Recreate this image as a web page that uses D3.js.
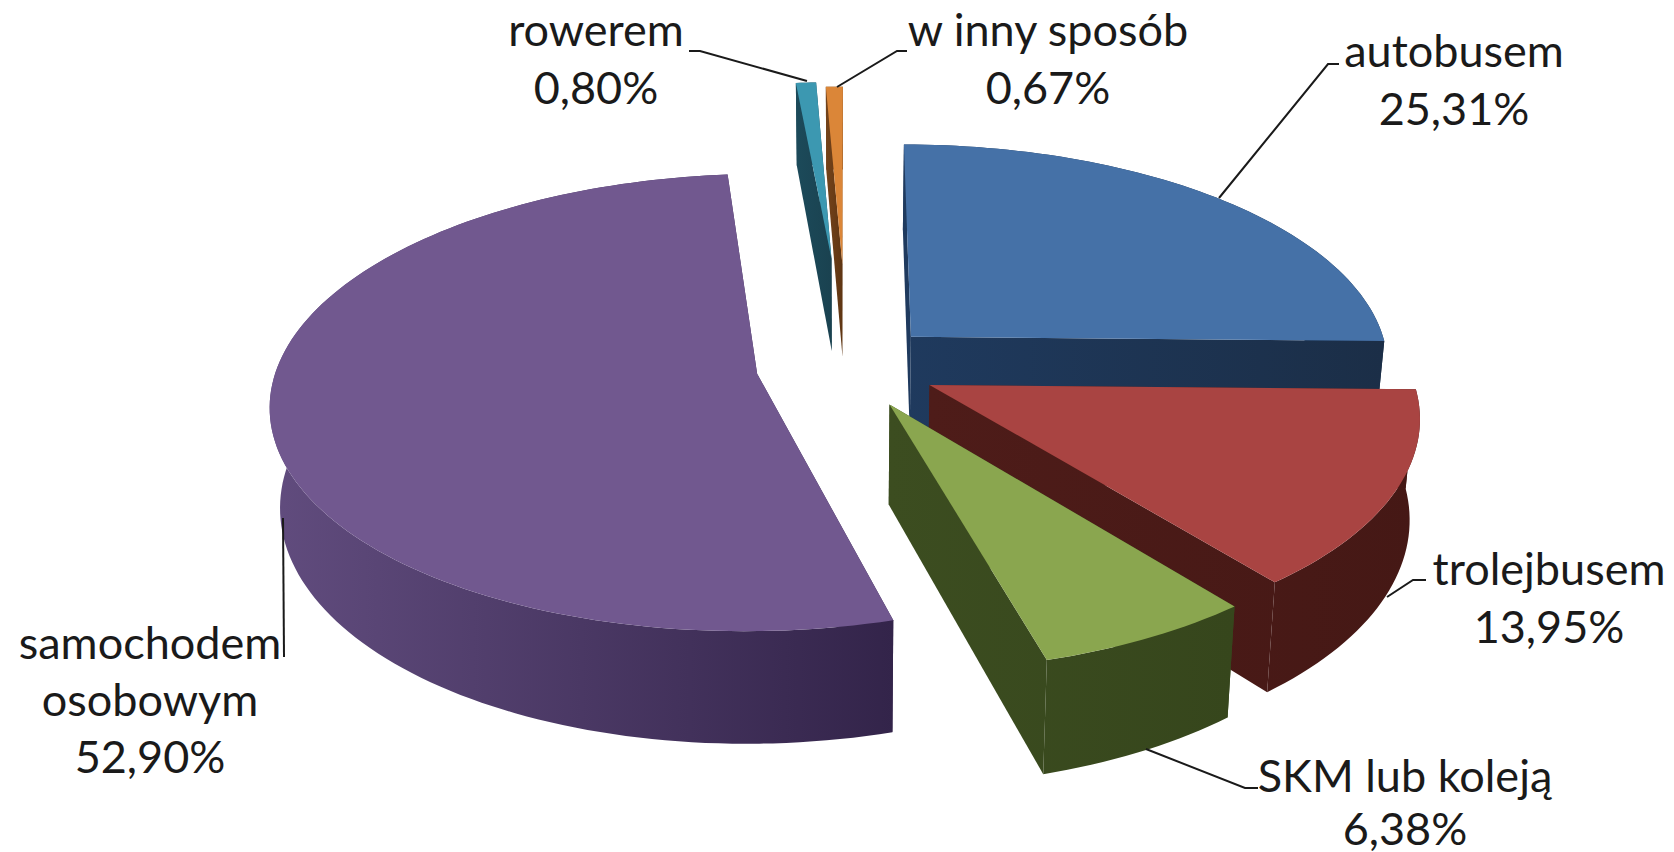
<!DOCTYPE html>
<html>
<head>
<meta charset="utf-8">
<script src="https://cdn.jsdelivr.net/npm/d3@7"></script>
<style>
  html, body { margin: 0; background: #fff; }
  text { font-family: Lato, "Open Sans", sans-serif; font-size: 45px; fill: #1a1a1a; text-anchor: middle; }
</style>
</head>
<body>
<script>
// slices in the order they go round the pie, clockwise from the top
var categories = ["autobusem", "trolejbusem", "SKM lub koleją", "samochodem osobowym", "rowerem", "w inny sposób"];
var shares = [25.31, 13.95, 6.38, 52.90, 0.80, 0.67];
var shareLabels = ["25,31%", "13,95%", "6,38%", "52,90%", "0,80%", "0,67%"];
var explosion = [1, 1, 1, 1, 2.7, 2.55];

var topColors = ["#4571a7", "#a94442", "#8aa64f", "#71588f", "#3c98b1", "#db8638"];
var wallLight = ["#1f3a5e", "#4e1c19", "#3c4d20", "#614c7e", "#1c4a5a", "#74431a"];
var wallDark = ["#1b2e47", "#451815", "#36461c", "#33244a", "#1a4250", "#5e3513"];

var w = 1674, h = 852;

// pie geometry, everything in pixels on the ground plane
var cx = 847, cy = 366;
var radius = 480, blast = 91, thickness = 98;
var tilt = 0.465, persp = 0.125, lowScale = 0.982;

var svg = d3.select("body").append("svg")
    .attr("width", w)
    .attr("height", h);

var defs = svg.append("defs");

var pie = d3.pie().sort(null).value(function(d){ return d; });
var arcs = pie(shares);

// ground point + height -> screen, the underside pulls in a little towards the middle
function project(gx, gz, up){
    var s = 1 / (1 + persp * gz / radius);
    return [cx + gx * s * (up ? 1 : lowScale), cy - gz * tilt * s + (up ? 0 : thickness * s)];
}

var line = d3.line();

function drawSlice(i){
    var a = arcs[i];
    var mid = (a.startAngle + a.endAngle) / 2;
    var ox = Math.sin(mid) * blast * explosion[i];
    var oz = Math.cos(mid) * blast * explosion[i];

    // rim points sampled along the arc
    var n = Math.max(4, Math.ceil((a.endAngle - a.startAngle) * 40));
    var angle = d3.scaleLinear().domain([0, n]).range([a.startAngle, a.endAngle]);
    var rim = d3.range(n + 1).map(function(k){
        var t = angle(k);
        return [ox + Math.sin(t) * radius, oz + Math.cos(t) * radius];
    });

    var topRim = rim.map(function(p){ return project(p[0], p[1], true); });
    var lowRim = rim.map(function(p){ return project(p[0], p[1], false); });
    var topApex = project(ox, oz, true);
    var lowApex = project(ox, oz, false);

    var xr = d3.extent(topRim.concat(lowRim, [topApex]), function(p){ return p[0]; });
    var gradId = "wall" + i;
    var grad = defs.append("linearGradient")
        .attr("id", gradId)
        .attr("gradientUnits", "userSpaceOnUse")
        .attr("x1", xr[0]).attr("x2", xr[1])
        .attr("y1", 0).attr("y2", 0);
    grad.append("stop").attr("offset", 0).attr("stop-color", wallLight[i]);
    grad.append("stop").attr("offset", 1).attr("stop-color", wallDark[i]);

    var g = svg.append("g").attr("class", "slice");

    // radial faces
    [0, n].forEach(function(e){
        g.append("path")
            .attr("d", line([topApex, topRim[e], lowRim[e], lowApex]) + "Z")
            .attr("fill", "url(#" + gradId + ")");
    });
    // outer wall
    g.append("path")
        .attr("d", line(topRim.concat(lowRim.slice().reverse())) + "Z")
        .attr("fill", "url(#" + gradId + ")");
    // top face
    g.append("path")
        .attr("d", line([topApex].concat(topRim)) + "Z")
        .attr("fill", topColors[i]);
}

// back to front
[0, 4, 5, 3, 1, 2].forEach(drawSlice);

// leader lines
var leaders = [
    [[1339, 64], [1328, 64], [1219, 198]],
    [[1426, 580], [1413, 580], [1387, 597]],
    [[1258, 788], [1245, 788], [1146, 749]],
    [[284, 657], [283, 518]],
    [[689, 51], [700, 51], [807, 81]],
    [[907, 51], [897, 51], [837, 87]]
];

svg.selectAll(".leader")
    .data(leaders)
    .enter()
    .append("path")
    .attr("class", "leader")
    .attr("d", function(d){ return line(d); })
    .attr("fill", "none")
    .attr("stroke", "#1a1a1a")
    .attr("stroke-width", 2);

// label anchors: centre x, first baseline, gap to next row
var labelPos = [[1454, 67, 58], [1549, 585, 58], [1405, 792, 53], [150, 659, 57], [596, 46, 58], [1048, 46, 58]];

labelPos.forEach(function(p, i){
    var rows = i === 3 ? ["samochodem", "osobowym"] : [categories[i]];
    rows.push(shareLabels[i]);
    var t = svg.append("text").attr("y", p[1]);
    rows.forEach(function(r, k){
        t.append("tspan")
            .attr("x", p[0])
            .attr("dy", k === 0 ? 0 : p[2])
            .text(r);
    });
});
</script>
</body>
</html>
